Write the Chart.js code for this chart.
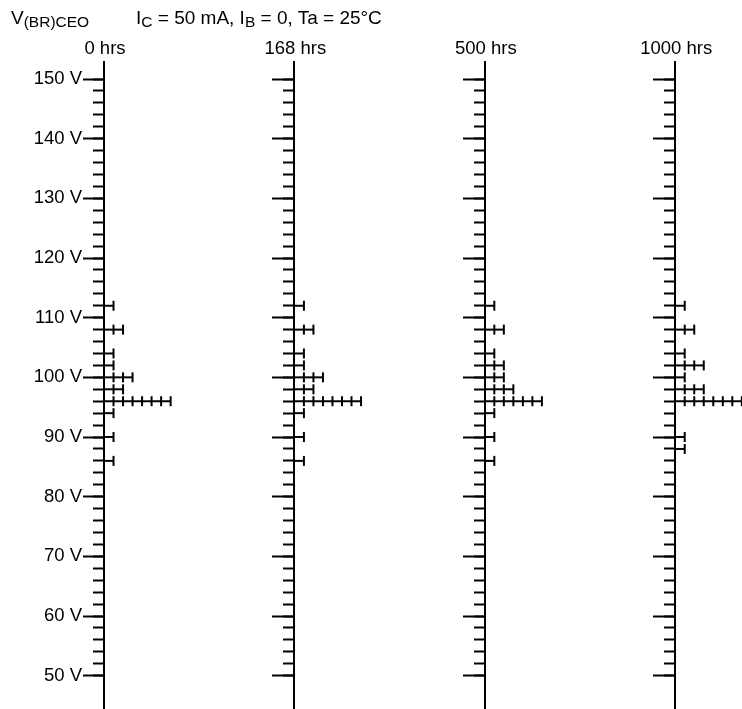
<!DOCTYPE html>
<html>
<head>
<meta charset="utf-8">
<script src="https://cdn.jsdelivr.net/npm/chart.js@4.4.0/dist/chart.umd.min.js"></script>
<style>
body { margin: 0; background: #fff; }
#wrap { position: relative; width: 742px; height: 709px; }
.ttl { position: absolute; top: 8px; font: 19px 'Liberation Sans', Arial, sans-serif; line-height: 19px; color: #000; white-space: nowrap; }
.ttl sub { font-size: 15.5px; line-height: 0; vertical-align: -3px; }
</style>
</head>
<body>
<div id="wrap">
  <canvas id="myChart" width="742" height="709"></canvas>
  <div class="ttl" style="left:11px">V<sub>(BR)CEO</sub></div>
  <div class="ttl" style="left:136px">I<sub>C</sub> = 50 mA, I<sub>B</sub> = 0, Ta = 25°C</div>
</div>
<script>
// voltage levels (V) that have at least one part, top to bottom
const levels = [112, 108, 104, 102, 100, 98, 96, 94, 90, 88, 86];
// number of parts at each level, per test time
const count0 = [1, 2, 1, 1, 3, 2, 7, 1, 1, 0, 1];
const count168 = [1, 2, 1, 1, 3, 2, 7, 1, 1, 0, 1];
const count500 = [1, 2, 1, 2, 2, 3, 6, 1, 1, 0, 1];
const count1000 = [1, 2, 1, 3, 1, 3, 7, 0, 1, 1, 0];

const hrsLabels = ['0 hrs', '168 hrs', '500 hrs', '1000 hrs'];
const axisPos = [0, 20, 40, 60]; // where each time axis sits on the hidden x scale
const majorTicks = [50, 60, 70, 80, 90, 100, 110, 120, 130, 140, 150];

const yMin = 44.42, yMax = 152.85;
const font = "'Liberation Sans', Arial, sans-serif";

const groups = [count0, count168, count500, count1000];
const datasets = [];
groups.forEach((counts, g) => {
    counts.forEach((n, i) => {
        if (!n) return;
        const pts = [];
        for (let k = 0; k <= n; k++) pts.push({ x: axisPos[g] + k, y: levels[i] });
        datasets.push({
            data: pts,
            yAxisID: 'min0',
            showLine: true,
            borderColor: '#000',
            borderWidth: 2,
            pointStyle: 'line',
            rotation: 90,
            pointRadius: c => c.dataIndex === 0 ? 0 : 5,
            pointBorderColor: '#000',
            pointBorderWidth: 2,
            clip: false
        });
    });
});

function vAxis(g, major) {
    const labelled = major && g === 0;
    return {
        type: 'linear',
        axis: 'y',
        // the labelled axis sits on the left edge of the plot so its labels get room
        position: labelled ? 'left' : { x: axisPos[g] },
        min: yMin,
        max: yMax,
        ticks: {
            stepSize: major ? 10 : 2,
            display: labelled,
            callback: v => v + ' V',
            padding: 1,
            color: '#000',
            font: { family: font, size: 18.5 }
        },
        afterBuildTicks: a => {
            if (major) a.ticks = majorTicks.map(v => ({ value: v }));
            else a.ticks = a.ticks.filter(t => t.value >= 49.9 && t.value <= 150.1);
        },
        afterFit: a => {
            a.paddingTop = 0;
            a.paddingBottom = 0;
            if (labelled) a.width = 104;
        },
        grid: { drawOnChartArea: false, tickLength: major ? 21 : 10, tickWidth: 2, tickColor: '#000' },
        border: { display: true, width: 2, color: '#000' }
    };
}

const scales = {
    x: { type: 'linear', axis: 'x', display: false, min: 0, max: 638 / 9.52 }
};
axisPos.forEach((p, g) => {
    scales['maj' + g] = vAxis(g, true);
    scales['min' + g] = vAxis(g, false);
});

const hrsPlugin = {
    id: 'hrs',
    afterDraw(chart) {
        const ctx = chart.ctx;
        const xs = chart.scales.x;
        ctx.save();
        ctx.fillStyle = '#000';
        ctx.font = '18.5px ' + font;
        ctx.textAlign = 'center';
        ctx.textBaseline = 'alphabetic';
        hrsLabels.forEach((t, i) => {
            ctx.fillText(t, xs.getPixelForValue(axisPos[i]) + 1, chart.chartArea.top - 8);
        });
        ctx.restore();
    }
};

const ctx = document.getElementById('myChart').getContext('2d');
let myChart = new Chart(ctx, {
    type: 'scatter',
    data: { datasets: datasets },
    options: {
        responsive: false,
        animation: false,
        events: [],
        layout: { autoPadding: false, padding: { top: 62, bottom: 0, left: 0, right: 0 } },
        plugins: { legend: { display: false }, tooltip: { enabled: false } },
        scales: scales
    },
    plugins: [hrsPlugin]
});
</script>
</body>
</html>
